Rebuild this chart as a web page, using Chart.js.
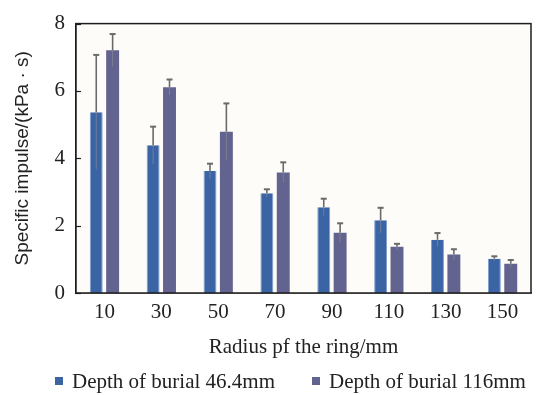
<!DOCTYPE html>
<html>
<head>
<meta charset="utf-8">
<script src="https://cdn.jsdelivr.net/npm/chart.js@4/dist/chart.umd.min.js"></script>
<style>
  html, body { margin: 0; padding: 0; background: #ffffff; }
  #wrap { position: relative; width: 538px; height: 395px; overflow: hidden; }
  #wrap canvas { position: absolute; left: 0; top: 0; }
  #legend {
    position: absolute; left: 55px; top: 369px;
    display: flex; gap: 37px;
    font-family: "Liberation Serif", "Times New Roman", serif;
    font-size: 21px; color: #222; white-space: nowrap; line-height: 24px;
  }
  #legend .item { display: flex; align-items: center; }
  #legend .swatch { width: 8px; height: 8px; margin-right: 9px; }
</style>
</head>
<body>
<div id="wrap">
  <canvas id="chart" width="538" height="395"></canvas>
  <div id="legend"></div>
</div>
<script>
// Ring radius categories (mm)
const radii = ['10', '30', '50', '70', '90', '110', '130', '150'];

// Specific impulse (kPa·s), burial depth 46.4 mm
const depth46Values = [5.37, 4.39, 3.62, 2.96, 2.55, 2.16, 1.58, 1.02];
const depth46Errors = [1.70, 0.55, 0.22, 0.12, 0.25, 0.37, 0.20, 0.07];

// Specific impulse (kPa·s), burial depth 116 mm
const depth116Values = [7.21, 6.11, 4.79, 3.58, 1.79, 1.37, 1.14, 0.87];
const depth116Errors = [0.48, 0.23, 0.84, 0.30, 0.28, 0.09, 0.16, 0.11];

// Y axis ticks
const yTicks = [0, 2, 4, 6, 8];

const serif = '"Liberation Serif", "Times New Roman", serif';
const sans = '"Liberation Sans", Arial, sans-serif';

// Plot background and closed frame around the plot area, with inward y ticks
const framePlugin = {
  id: 'frame',
  beforeDatasetsDraw(chart) {
    const { ctx, chartArea: a } = chart;
    ctx.save();
    ctx.fillStyle = '#fdfcf8';
    ctx.fillRect(a.left, a.top, a.right - a.left, a.bottom - a.top);
    ctx.restore();
  },
  afterDraw(chart) {
    const { ctx, chartArea: a, scales } = chart;
    ctx.save();
    ctx.strokeStyle = '#1e1e1e';
    ctx.lineWidth = 1.5;
    ctx.strokeRect(a.left, a.top, a.right - a.left, a.bottom - a.top);
    ctx.lineWidth = 1.2;
    scales.y.ticks.forEach(t => {
      const y = Math.round(scales.y.getPixelForValue(t.value)) + 0.5;
      ctx.beginPath();
      ctx.moveTo(a.left, y);
      ctx.lineTo(a.left + 5, y);
      ctx.stroke();
    });
    ctx.restore();
  }
};

// Symmetric error bars, drawn from each dataset's errors array
const errorBarPlugin = {
  id: 'errorBars',
  afterDatasetsDraw(chart) {
    const { ctx, scales } = chart;
    const yScale = scales.y;
    chart.data.datasets.forEach((ds, di) => {
      const meta = chart.getDatasetMeta(di);
      meta.data.forEach((bar, i) => {
        const v = ds.data[i];
        const e = ds.errors[i];
        const x = bar.x;
        const yTop = yScale.getPixelForValue(v + e);
        const yVal = yScale.getPixelForValue(v);
        const yLow = yScale.getPixelForValue(v - e);
        ctx.save();
        // lower half, seen through the bar
        ctx.strokeStyle = 'rgba(150,150,150,0.55)';
        ctx.lineWidth = 1;
        ctx.beginPath();
        ctx.moveTo(x, yVal);
        ctx.lineTo(x, yLow);
        ctx.stroke();
        // upper half with cap
        ctx.strokeStyle = '#6a6a6a';
        ctx.lineWidth = 1.6;
        ctx.beginPath();
        ctx.moveTo(x, yVal);
        ctx.lineTo(x, yTop);
        ctx.stroke();
        ctx.lineWidth = 2;
        ctx.beginPath();
        ctx.moveTo(x - 3, yTop);
        ctx.lineTo(x + 3, yTop);
        ctx.stroke();
        ctx.restore();
      });
    });
  }
};

// HTML legend built from the chart's own legend items
const htmlLegendPlugin = {
  id: 'htmlLegend',
  afterUpdate(chart) {
    const box = document.getElementById('legend');
    box.innerHTML = '';
    const items = chart.options.plugins.legend.labels.generateLabels(chart);
    items.forEach(item => {
      const el = document.createElement('div');
      el.className = 'item';
      const sw = document.createElement('span');
      sw.className = 'swatch';
      sw.style.background = item.fillStyle;
      const tx = document.createElement('span');
      tx.textContent = item.text;
      el.appendChild(sw);
      el.appendChild(tx);
      box.appendChild(el);
    });
  }
};

new Chart(document.getElementById('chart'), {
  type: 'bar',
  data: {
    labels: radii,
    datasets: [
      {
        label: 'Depth of burial 46.4mm',
        data: depth46Values,
        errors: depth46Errors,
        backgroundColor: '#3b64a5',
        borderColor: '#7e9fd0',
        borderWidth: { left: 1, right: 1, top: 0, bottom: 0 },
        categoryPercentage: 0.576,
        barPercentage: 0.79
      },
      {
        label: 'Depth of burial 116mm',
        data: depth116Values,
        errors: depth116Errors,
        backgroundColor: '#62638f',
        borderWidth: 0,
        categoryPercentage: 0.576,
        barPercentage: 0.79
      }
    ]
  },
  options: {
    responsive: false,
    animation: false,
    devicePixelRatio: 1,
    layout: { padding: { left: 8, right: 7, top: 14, bottom: 32 } },
    plugins: {
      legend: { display: false },
      tooltip: { enabled: false }
    },
    scales: {
      x: {
        grid: { display: false, drawTicks: false },
        border: { display: true, color: '#1e1e1e', width: 1.5 },
        ticks: { color: '#222', font: { family: serif, size: 21 }, padding: 7 },
        title: {
          display: true,
          text: 'Radius pf the ring/mm',
          color: '#222',
          font: { family: serif, size: 21 },
          padding: { top: 0, bottom: 3 }
        },
        afterFit(scale) { scale.height = 70; }
      },
      y: {
        min: 0,
        max: 8,
        afterBuildTicks(scale) { scale.ticks = yTicks.map(v => ({ value: v })); },
        grid: { display: false, drawTicks: false },
        border: { display: true, color: '#1e1e1e', width: 1.5 },
        ticks: { color: '#222', font: { family: serif, size: 21 }, padding: 11 },
        title: {
          display: true,
          text: 'Specific impulse/(kPa · s)',
          color: '#222',
          font: { family: sans, size: 19 },
          padding: { top: 3, bottom: 0 }
        },
        afterFit(scale) { scale.width = 68; }
      }
    }
  },
  plugins: [framePlugin, errorBarPlugin, htmlLegendPlugin]
});
</script>
</body>
</html>
